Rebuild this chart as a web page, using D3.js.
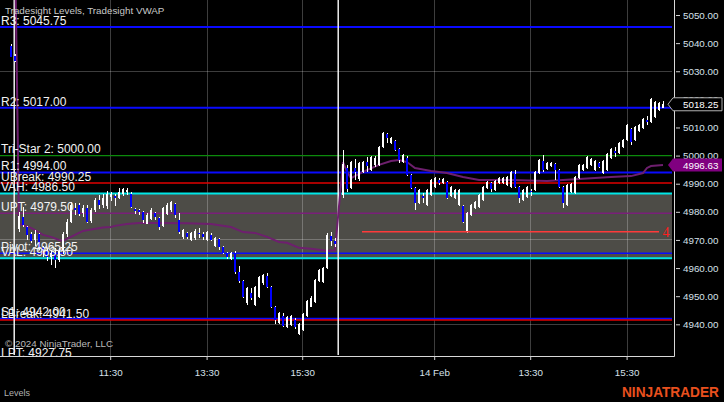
<!DOCTYPE html>
<html><head><meta charset="utf-8">
<script src="https://cdn.jsdelivr.net/npm/d3@7"></script>
<style>
html,body{margin:0;padding:0;background:#000;overflow:hidden}
text{font-family:"Liberation Sans",Arial,sans-serif}
</style>
</head><body>
<svg id="chart" width="724" height="402"></svg>
<script>
// ---------- DATA ----------
// bar slots (5-minute bars, two sessions; slot 82 is the session break)
const session1Slots = d3.range(0, 82);
const session2Slots = d3.range(83, 164);
const barSlots = session1Slots.concat(session2Slots);

const opens = [5039,5035.5,4974,4978,4974.5,4972,4970,4972,4967.5,4966,4964,4965,4963,4966,4972,4976.5,4981.5,4982.5,4979.5,4981.5,4976.7,4980.7,4984.2,4982.5,4982,4985.3,4985.5,4985,4986.5,4987,4986.5,4981,4980.5,4980,4975.8,4977.6,4979.6,4977.8,4974.8,4979.4,4980.6,4982.8,4977.1,4971.2,4972.4,4970,4970.7,4972.6,4972.2,4970,4971.8,4967.9,4970.3,4967.5,4965.4,4963.2,4965.4,4958.6,4955.4,4947.6,4951.1,4946.9,4949.7,4954.7,4957.2,4953.3,4946.2,4940.5,4942.9,4939,4939.7,4941.5,4936.5,4938,4942.9,4946.2,4947.9,4955.4,4955,4960,4971.4,4969.6,
 4986,4995.6,4988.5,4995.6,4991.7,4994.2,4997.7,4994.9,4996.6,4996.7,5003.1,5007.7,5004.5,5005.2,5002.4,4997.7,4999.1,4993.1,4988.5,4983.1,4985.6,4982.4,4986,4988.8,4991.3,4990.2,4990.6,4985.6,4984.9,4982.4,4982,4972.8,4978.9,4981.4,4981.7,4984.2,4988.5,4990.2,4987.8,4990.2,4990.4,4989.5,4988.8,4993.5,4988.8,4984.2,4985.3,4987.5,4987.8,4993.8,4998.1,4995.3,4996.3,4997,4994.9,4988.8,4982.4,4987,4986.7,4992,4995,4995.6,4996.7,4994.9,4997.4,4993.8,4994.9,4999.1,5001.6,5000.9,5003.1,5005.6,5009.5,5005.6,5008.8,5009.8,5012.7,5012,5013.7,5016.2,5017];
const highs = [5039.7,5036,4980,4981.7,4975,4973,4973.5,4972.5,4968,4967,4966.5,4967,4967,4973,4977.5,4983.5,4983,4983,4982.5,4982.5,4981.5,4985,4986,4986.5,4987.5,4987,4986.5,4988.5,4988.5,4988.3,4987,4981.5,4981,4980.2,4979.5,4981.2,4980,4978.2,4981.8,4983,4984,4983.2,4979.5,4974,4973,4973,4973.8,4974.2,4972.9,4973.3,4972.5,4971,4970.7,4967.8,4965.8,4965.8,4966,4960.7,4955.8,4953.3,4952.9,4953.6,4957.2,4958,4958.3,4953.6,4946.5,4944.5,4944,4943,4943.3,4942.2,4940.5,4944,4948.6,4950,4956.2,4959.7,4960.4,4972.5,4972.8,4970.7,
 5002,4996.7,4998.2,4998.8,4997.8,4998.1,4999.5,4999.9,5000,5003.5,5008.4,5008.1,5006.6,5005.6,5002.7,5000.6,5000,4993.5,4988.9,4988.2,4986.7,4988.2,4991.7,4992.4,4992,4992,4991,4989.2,4988.2,4988.2,4982.4,4980,4982.8,4983.9,4986.4,4989.2,4991,4990.6,4991.4,4992.4,4992.4,4992.7,4994.6,4994.9,4989.2,4988.2,4989.2,4988,4994.6,4998.8,5000.2,4997.8,4997.8,4997.4,4995.3,4989.2,4989.9,4990.4,4992.8,4997,4997,4999.9,4999.2,4998.5,4997.8,4998.5,5001,5002.8,5003.1,5004.9,5006,5011.3,5009.9,5010.6,5011.3,5013.4,5014.1,5020.5,5019.4,5019,5019.4];
const lows = [5035,5033.3,4973,4974.5,4970,4969,4968,4966.5,4964,4962.5,4961,4960,4962,4965,4971,4976,4979,4978.5,4978,4976,4976,4980,4981,4981.5,4981,4984,4982,4984.5,4985.5,4986,4981.5,4979.3,4979,4976,4975.5,4977,4977,4973.5,4974.5,4979,4980,4977.8,4972,4970.5,4970.3,4969.5,4970,4970.7,4970,4969.6,4969.5,4967.5,4966.3,4965,4963.2,4962.8,4957.9,4954.7,4949.4,4947,4948.7,4946.5,4949.3,4954,4953,4945.8,4940.1,4940,4939,4938.7,4939.4,4938.4,4936.2,4937.5,4942.5,4946,4947.5,4955,4954.7,4959.6,4967.9,4967.5,
 4985,4987,4988.1,4991.3,4991,4993.8,4994.2,4994.5,4996,4996.3,5002.8,5004.5,5004,5001.7,4997.4,4997.3,4992.7,4988,4980.7,4982.7,4983.1,4982,4985.6,4988.4,4989.5,4989.8,4984.5,4985.2,4984.5,4982,4976,4972.5,4978.5,4981,4981.4,4983.8,4988.1,4987,4987.4,4989.8,4990,4989.1,4988.4,4988.4,4983.1,4983.8,4984.9,4985.8,4987.4,4993.5,4994.2,4994.9,4996,4991.3,4988.4,4981.4,4982,4986.6,4986.3,4991.7,4994.6,4995.3,4996.3,4994.6,4995.6,4993.5,4994.5,4998.8,4999.5,5000.5,5002.8,5005.2,5003.8,5005.2,5008.4,5009.5,5010.9,5011.6,5013.3,5015.9,5016.9];
const closes = [5035.2,5033.6,4978.5,4975.3,4971.8,4969.8,4972,4967.5,4966,4964,4965.5,4963,4966,4972,4976.5,4982.5,4980.5,4979.3,4981.5,4976.5,4980.7,4984.2,4982.5,4985,4986.5,4986.3,4984.8,4987,4988,4987.8,4981.8,4980.2,4979.8,4977.1,4979,4980.7,4978.2,4974.7,4981.4,4982.5,4983.6,4978.9,4972.9,4973.5,4971,4972.4,4973.2,4972.2,4971,4972.9,4970,4970.7,4967.5,4965.4,4964,4965.4,4958.6,4955.4,4949.7,4952.9,4949.4,4953.3,4956.8,4957.5,4953.3,4946.2,4941.5,4944,4939.4,4942.6,4943,4939,4940.1,4943.6,4948.3,4949.4,4955.8,4959.3,4960,4971.8,4969.6,4968.6,
 4997,4988.1,4997.7,4994.2,4997.4,4997.7,4996.3,4999.5,4999.1,5003.1,5008.1,5006.3,5006.3,5002,4998.4,5000.2,4993.1,4988.5,4983.1,4987.8,4984.9,4987.8,4991.3,4992,4990.2,4991.7,4984.9,4988.8,4987.8,4987.8,4976.4,4979.6,4982.4,4983.5,4986,4988.8,4990.6,4988.1,4991,4992,4992,4992.4,4994.2,4988.8,4984.9,4987.8,4988.8,4987,4994.2,4998.4,4994.9,4997.4,4997.4,4994.9,4988.8,4983.1,4989.5,4990,4992.4,4996.6,4996.6,4999.5,4998.8,4998.1,4996,4998.1,5000.6,5002.4,5000.9,5004.5,5005.6,5010.9,5004.8,5010.2,5010.9,5013,5012,5020.1,5019,5018.7,5018.25];

// VWAP readings (bar slot, value)
const vwapSlots = [1,2,3,5,6,8,10,12,13,15,17,18,20,23,25,26,29,32,36,44,50,55,58,61,64,67,69,72,75,79,81,
  83,84,85,88,92,95,97,99,101,105,109,113,117,125,134,142,150,155,158,159,160,163];
const vwapValues = [5075,4975.7,4975.3,4974.3,4973.5,4971.8,4971.1,4970.0,4969.7,4971.1,4972.5,4973.2,4973.7,4974.4,4974.6,4975.0,4975.7,4976.0,4976.0,4975.9,4975.7,4974.6,4972.8,4972.5,4971.1,4969.3,4969.0,4967.2,4966.9,4966.2,4966.3,
  4997.7,4994.2,4992.0,4994.2,4996.7,4998.1,4998.4,4997.7,4995.6,4994.5,4993.8,4992.4,4991.3,4991.3,4991.0,4991.7,4992.4,4992.7,4993.8,4995.6,4996.3,4996.63];

// Tradesight levels
const levelNames  = ["R3","R2","Tri-Star 2","R1","UBreak","VAH","UPT","Pivot","VAL","S1","LBreak","LPT"];
const levelValues = [5045.75,5017.00,5000.00,4994.00,4990.25,4986.50,4979.50,4965.25,4963.50,4942.00,4941.50,4927.75];

// axes
const priceTicks = d3.range(4940, 5051, 10);
const gridPrices = [5030, 5000, 4970, 4940];
const timeTickSlots = [24.8, 48.9, 72.8, 105.8, 129.8, 153.9];
const timeTickLabels = ["11:30","13:30","15:30","14 Feb","13:30","15:30"];
const sessionBreakSlots = [0.8, 81.8];

// drawn ray
const rayStartSlot = 87.75, rayEndSlot = 162, rayPrice = 4972.9, rayLabel = "4";

// ---------- STYLE ----------
const levelStyle = {
  "R3":["#0a0aff",2],"R2":["#0a0aff",2],"R1":["#0a0aff",2],"S1":["#0a0aff",2],"Pivot":["#0a0aff",1.5],
  "Tri-Star 2":["#0c8a0c",1.2],"UBreak":["#e00000",1.5],"LBreak":["#e00000",1.5],
  "VAH":["#00e6e6",2],"VAL":["#00e6e6",2],"UPT":["#7a1f7a",1.5],"LPT":["#7a1f7a",1.5]
};
const fontSmall = "9.8px";

// ---------- CHART ----------
const svg = d3.select("#chart");
const plotW = 672, axisX = 674, plotBottom = 356;
const x = d3.scaleLinear().domain([0, 163]).range([11, 663]);
const y = d3.scaleLinear().domain([4940, 5050]).range([324.3, 15]);

svg.append("rect").attr("width", 724).attr("height", 402).attr("fill", "#000");
svg.append("defs").append("clipPath").attr("id", "plot")
  .append("rect").attr("x", 0).attr("y", 0).attr("width", plotW).attr("height", plotBottom);

const plot = svg.append("g").attr("clip-path", "url(#plot)");

// value area band
const vah = levelValues[levelNames.indexOf("VAH")], val = levelValues[levelNames.indexOf("VAL")];
plot.append("rect").attr("x", 0).attr("width", plotW)
  .attr("y", y(vah)).attr("height", y(val) - y(vah)).attr("fill", "#4d4c47");

// grid
plot.selectAll("line.hg").data(gridPrices).join("line").attr("class","hg")
  .attr("x1", 0).attr("x2", plotW).attr("y1", d => y(d)).attr("y2", d => y(d))
  .attr("stroke", "#fff").attr("stroke-opacity", 0.24).attr("shape-rendering","crispEdges");
plot.selectAll("line.vg").data(timeTickSlots).join("line").attr("class","vg")
  .attr("x1", d => Math.round(x(d)) + 0.5).attr("x2", d => Math.round(x(d)) + 0.5)
  .attr("y1", 0).attr("y2", plotBottom)
  .attr("stroke", "#fff").attr("stroke-opacity", 0.24);

// level lines
plot.selectAll("line.lvl").data(levelNames).join("line").attr("class","lvl")
  .attr("x1", 0).attr("x2", plotW)
  .attr("y1", (d,i) => y(levelValues[i])).attr("y2", (d,i) => y(levelValues[i]))
  .attr("stroke", d => levelStyle[d][0]).attr("stroke-width", d => levelStyle[d][1]);

// session breaks
plot.selectAll("line.sess").data(sessionBreakSlots).join("line").attr("class","sess")
  .attr("x1", d => x(d)).attr("x2", d => x(d)).attr("y1", 0).attr("y2", plotBottom - 1)
  .attr("stroke", "#fff").attr("stroke-width", 1.4);

// VWAP
const vwapPts = vwapSlots.map((s,i) => [s, vwapValues[i]]);
plot.append("path").datum(vwapPts)
  .attr("d", d3.line().x(d => x(d[0])).y(d => y(d[1])))
  .attr("fill", "none").attr("stroke", "#6e1f6e").attr("stroke-width", 2);

// candles
const bars = barSlots.map((s,i) => ({s, o: opens[i], h: highs[i], l: lows[i], c: closes[i]}));
const cg = plot.append("g").attr("shape-rendering", "crispEdges");
cg.selectAll("rect.wick").data(bars).join("rect").attr("class","wick")
  .attr("x", d => Math.round(x(d.s))).attr("width", 1)
  .attr("y", d => y(d.h)).attr("height", d => Math.max(1, y(d.l) - y(d.h)))
  .attr("fill", "#fff");
cg.selectAll("rect.body").data(bars).join("rect").attr("class","body")
  .attr("x", d => Math.round(x(d.s)) - 1).attr("width", 2)
  .attr("y", d => y(Math.max(d.o, d.c)))
  .attr("height", d => Math.max(1, Math.abs(y(d.o) - y(d.c))))
  .attr("fill", d => d.c >= d.o ? "#fff" : "#0000ff");

// ray
plot.append("line").attr("x1", x(rayStartSlot)).attr("x2", x(rayEndSlot))
  .attr("y1", y(rayPrice)).attr("y2", y(rayPrice))
  .attr("stroke", "#ff3a3a").attr("stroke-width", 1.5);
svg.append("text").attr("x", x(rayEndSlot) + 3.5).attr("y", y(rayPrice)).attr("dy", "0.36em")
  .attr("fill", "#ff2020").style("font-family", "'Liberation Serif',serif").style("font-size", "14px")
  .text(rayLabel);

// level labels
plot.selectAll("text.lvl").data(levelNames).join("text").attr("class","lvl")
  .attr("x", 1).attr("y", (d,i) => y(levelValues[i]) - 2.2)
  .attr("fill", "#f2f2f2").style("font-size", "12px")
  .text((d,i) => `${d}: ${levelValues[i].toFixed(2)}`);

// titles
svg.append("text").attr("x", 5).attr("y", 14.3).attr("fill", "#c8c8c8")
  .style("font-size", fontSmall).text("Tradesight Levels, Tradesight VWAP");
svg.append("text").attr("x", 5).attr("y", 347).attr("fill", "#b8b8b8")
  .style("font-size", fontSmall).text("© 2024 NinjaTrader, LLC");

// frame
svg.append("line").attr("x1", axisX + 0.5).attr("x2", axisX + 0.5).attr("y1", 0).attr("y2", plotBottom + 0.5)
  .attr("stroke", "#d8d8d8");
svg.append("line").attr("x1", 0).attr("x2", axisX + 0.5).attr("y1", plotBottom + 0.5).attr("y2", plotBottom + 0.5)
  .attr("stroke", "#d8d8d8");

// right axis
const ra = svg.append("g").attr("transform", `translate(${axisX + 2},0)`)
  .call(d3.axisRight(y).tickValues(priceTicks).tickFormat(d3.format(".2f")).tickSize(4).tickPadding(3));
ra.select(".domain").remove();
ra.selectAll("line").attr("stroke", "#d0d0d0");
ra.selectAll("text").attr("fill", "#d6e0ea").style("font-size", fontSmall)
  .style("font-family", "'Liberation Sans',Arial,sans-serif");

// bottom axis
const ba = svg.append("g").attr("transform", `translate(0,${plotBottom})`)
  .call(d3.axisBottom(x).tickValues(timeTickSlots).tickFormat((d,i) => timeTickLabels[i]).tickSize(4).tickPadding(9));
ba.select(".domain").remove();
ba.selectAll("line").attr("stroke", "#d0d0d0");
ba.selectAll("text").attr("fill", "#d6e0ea").style("font-size", fontSmall)
  .style("font-family", "'Liberation Sans',Arial,sans-serif");

// price markers
function marker(price, fill, stroke) {
  const yc = y(price);
  const g = svg.append("g");
  g.append("path")
    .attr("d", `M668,${yc} L673,${yc-6.5} L722,${yc-6.5} L722,${yc+6.5} L673,${yc+6.5} Z`)
    .attr("fill", fill).attr("stroke", stroke || "none");
  g.append("text").attr("x", 683).attr("y", yc).attr("dy", "0.36em")
    .attr("fill", "#fff").style("font-size", fontSmall).text(price.toFixed(2));
}
marker(closes[closes.length - 1], "#000", "#b0b0b0");
marker(vwapValues[vwapValues.length - 1], "#800080", null);

// footer
svg.append("text").attr("x", 4).attr("y", 396).attr("fill", "#b0b0b0")
  .style("font-size", "9px").text("Levels");
svg.append("text").attr("x", 622).attr("y", 397).attr("fill", "#e9501e")
  .style("font-size", "14px").style("font-weight", "bold")
  .attr("textLength", 97).attr("lengthAdjust", "spacingAndGlyphs")
  .text("NINJATRADER");
</script>
</body></html>
